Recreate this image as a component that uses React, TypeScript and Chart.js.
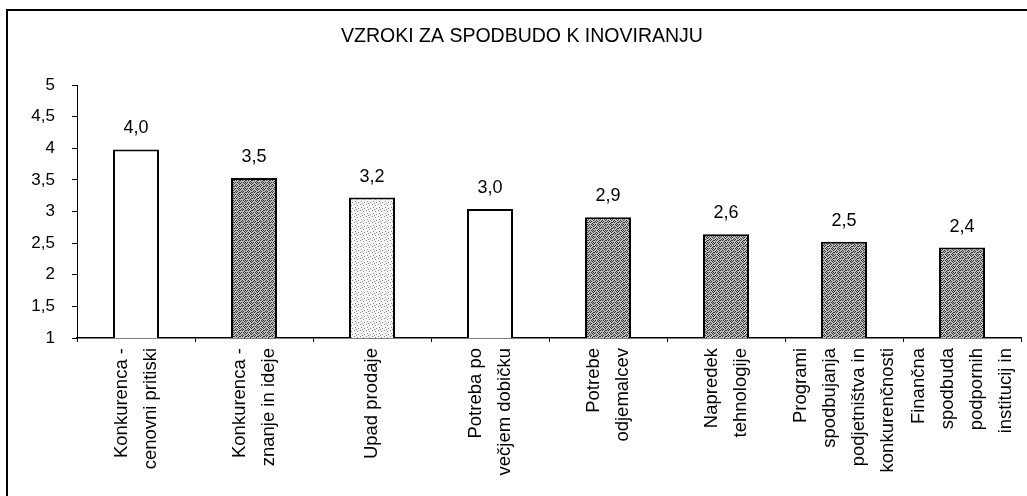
import React, { useEffect, useRef } from 'react';
import { Chart, registerables } from 'chart.js';

Chart.register(...registerables);

const TITLE = 'VZROKI ZA SPODBUDO K INOVIRANJU';

const categories: string[][] = [
  ['Konkurenca -', 'cenovni pritiski'],
  ['Konkurenca -', 'znanje in ideje'],
  ['Upad prodaje'],
  ['Potreba po', 'večjem dobičku'],
  ['Potrebe', 'odjemalcev'],
  ['Napredek', 'tehnologije'],
  ['Programi', 'spodbujanja', 'podjetništva in', 'konkurenčnosti'],
  ['Finančna', 'spodbuda', 'podpornih', 'institucij in'],
];

const values = [3.98, 3.53, 3.22, 3.04, 2.91, 2.64, 2.52, 2.43];
const valueLabels = ['4,0', '3,5', '3,2', '3,0', '2,9', '2,6', '2,5', '2,4'];
const fillKinds = ['white', 'dark', 'light', 'white', 'dark', 'dark', 'dark', 'dark'];

const yMin = 1;
const yMax = 5;
const yStep = 0.5;

const FONT = 'Arial, "Liberation Sans", sans-serif';

function makePattern(kind: string): CanvasPattern | string {
  if (kind === 'white') return '#ffffff';
  const c = document.createElement('canvas');
  c.width = 6;
  c.height = 6;
  const g = c.getContext('2d')!;
  if (kind === 'dark') {
    g.fillStyle = '#bdbdbd';
    g.fillRect(0, 0, 6, 6);
    g.fillStyle = '#333333';
    const pts = [[0,0],[2,0],[4,1],[1,2],[3,2],[5,2],[0,3],[4,3],[2,4],[5,4],[1,5],[3,5],[5,0]];
    pts.forEach(([x, y]) => g.fillRect(x, y, 1, 1));
  } else {
    g.fillStyle = '#f6f6f6';
    g.fillRect(0, 0, 6, 6);
    g.fillStyle = '#8a8a8a';
    const pts = [[0,0],[3,1],[1,3],[4,4],[2,5]];
    pts.forEach(([x, y]) => g.fillRect(x, y, 1, 1));
  }
  return g.createPattern(c, 'repeat')!;
}

const decorPlugin = {
  id: 'decor',
  beforeDraw(chart: any) {
    const ctx = chart.ctx;
    ctx.save();
    ctx.fillStyle = '#ffffff';
    ctx.fillRect(0, 0, chart.width, chart.height);
    ctx.strokeStyle = '#000000';
    ctx.lineWidth = 2;
    ctx.beginPath();
    ctx.moveTo(7, chart.height);
    ctx.lineTo(7, 10);
    ctx.lineTo(chart.width, 10);
    ctx.stroke();
    ctx.fillStyle = '#000000';
    ctx.font = `19.5px ${FONT}`;
    ctx.textAlign = 'center';
    ctx.textBaseline = 'middle';
    ctx.fillText(TITLE, 522, 37);
    ctx.restore();
  },
  afterDatasetsDraw(chart: any) {
    const ctx = chart.ctx;
    const meta = chart.getDatasetMeta(0);
    const xScale = chart.scales.x;
    ctx.save();
    ctx.fillStyle = '#000000';
    ctx.font = `18px ${FONT}`;
    ctx.textAlign = 'center';
    ctx.textBaseline = 'middle';
    meta.data.forEach((el: any, i: number) => {
      ctx.fillText(valueLabels[i], el.x, el.y - 21);
    });
    // rotated category labels
    ctx.font = `18.5px ${FONT}`;
    ctx.textAlign = 'right';
    ctx.textBaseline = 'middle';
    const spacing = 29;
    const labels = chart.data.labels as string[][];
    labels.forEach((lines, i) => {
      const cx = xScale.getPixelForTick(i);
      const n = lines.length;
      lines.forEach((line, j) => {
        const lx = cx + (j - (n - 1) / 2) * spacing;
        ctx.save();
        ctx.translate(lx, xScale.top + 10);
        ctx.rotate(-Math.PI / 2);
        ctx.fillText(line, 0, 0);
        ctx.restore();
      });
    });
    ctx.restore();
  },
};

export default function App() {
  const ref = useRef<HTMLCanvasElement | null>(null);

  useEffect(() => {
    document.body.style.margin = '0';
    const canvas = ref.current!;
    const chart = new Chart(canvas, {
      type: 'bar',
      data: {
        labels: categories,
        datasets: [
          {
            data: values,
            backgroundColor: fillKinds.map(makePattern) as any,
            borderColor: '#000000',
            borderWidth: 2,
            borderSkipped: 'start',
            categoryPercentage: 1,
            barPercentage: 0.39,
          },
        ],
      },
      options: {
        animation: false,
        responsive: false,
        devicePixelRatio: 1,
        layout: { padding: { top: 85, left: 0, right: 6, bottom: 0 } },
        plugins: {
          legend: { display: false },
          title: { display: false },
          tooltip: { enabled: false },
        },
        scales: {
          x: {
            offset: true,
            border: { display: true, color: '#000000', width: 1.5 },
            grid: {
              display: true,
              offset: true,
              drawOnChartArea: false,
              drawTicks: true,
              tickLength: 4,
              color: '#000000',
            },
            ticks: { display: false },
            afterFit(scale: any) {
              scale.height = 496 - 338;
            },
          },
          y: {
            min: yMin,
            max: yMax,
            border: { display: true, color: '#000000', width: 1 },
            grid: {
              display: true,
              drawOnChartArea: false,
              drawTicks: true,
              tickLength: 5,
              color: '#000000',
            },
            ticks: {
              stepSize: yStep,
              padding: 17,
              color: '#000000',
              font: { family: FONT, size: 17 },
              callback: (v: any) => String(v).replace('.', ','),
            },
            afterFit(scale: any) {
              scale.width = 77;
            },
          },
        },
      },
      plugins: [decorPlugin],
    });
    return () => chart.destroy();
  }, []);

  return (
    <canvas
      ref={ref}
      width={1027}
      height={496}
      style={{ display: 'block', width: 1027, height: 496 }}
    />
  );
}
